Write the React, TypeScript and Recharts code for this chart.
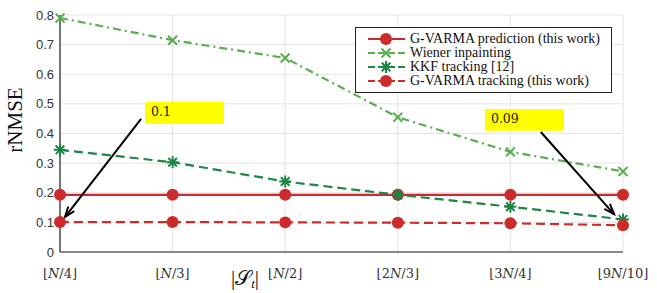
import React from "react";
import {
  LineChart,
  Line,
  XAxis,
  YAxis,
  CartesianGrid,
  Legend,
  ReferenceArea,
  ReferenceLine,
} from "recharts";

const categories = ["N/4", "N/3", "N/2", "2N/3", "3N/4", "9N/10"];
const predictionRnmse = [0.193, 0.193, 0.193, 0.193, 0.193, 0.193];
const wienerRnmse = [0.79, 0.715, 0.655, 0.455, 0.338, 0.272];
const kkfRnmse = [0.345, 0.303, 0.238, 0.193, 0.153, 0.11];
const trackingRnmse = [0.101, 0.101, 0.1, 0.099, 0.097, 0.09];
const yTicks = [0, 0.1, 0.2, 0.3, 0.4, 0.5, 0.6, 0.7, 0.8];

const data = categories.map((c, i) => ({
  idx: i,
  cat: c,
  prediction: predictionRnmse[i],
  wiener: wienerRnmse[i],
  kkf: kkfRnmse[i],
  tracking: trackingRnmse[i],
}));

const RED = "#cc2b2b";
const LIGHT_GREEN = "#5aae50";
const DARK_GREEN = "#1d8545";
const SERIF = "Liberation Serif, serif";
const SANS = "Liberation Sans, Arial, sans-serif";

const Circle = ({ cx, cy, color }: any) => <circle cx={cx} cy={cy} r={6} fill={color} />;

const Cross = ({ cx, cy, color }: any) => (
  <g stroke={color} strokeWidth={2}>
    <line x1={cx - 4.5} y1={cy - 4.5} x2={cx + 4.5} y2={cy + 4.5} />
    <line x1={cx - 4.5} y1={cy + 4.5} x2={cx + 4.5} y2={cy - 4.5} />
  </g>
);

const Star = ({ cx, cy, color }: any) => (
  <g stroke={color} strokeWidth={2}>
    <line x1={cx} y1={cy - 6} x2={cx} y2={cy + 6} />
    <line x1={cx - 6} y1={cy} x2={cx + 6} y2={cy} />
    <line x1={cx - 4.3} y1={cy - 4.3} x2={cx + 4.3} y2={cy + 4.3} />
    <line x1={cx - 4.3} y1={cy + 4.3} x2={cx + 4.3} y2={cy - 4.3} />
  </g>
);

const series = [
  { key: "prediction", name: "G-VARMA prediction (this work)", color: RED, dash: undefined, Marker: Circle },
  { key: "wiener", name: "Wiener inpainting", color: LIGHT_GREEN, dash: "8 4 2 4", Marker: Cross },
  { key: "kkf", name: "KKF tracking [12]", color: DARK_GREEN, dash: "9 5", Marker: Star },
  { key: "tracking", name: "G-VARMA tracking (this work)", color: RED, dash: "9 5", Marker: Circle },
];

function XTick({ x, y, payload }: any) {
  const label = categories[payload.value] ?? "";
  const [pre, post] = label.split("N");
  return (
    <text x={x} y={y + 18} textAnchor="middle" fontFamily="DejaVu Serif, serif" fontSize={13} fill="#333">
      <tspan>{"⌊" + pre}</tspan>
      <tspan fontStyle="italic">N</tspan>
      <tspan>{"/" + post.slice(1) + "⌋"}</tspan>
    </text>
  );
}

function Arrow({ x1, y1, x2, y2 }: any) {
  const ang = Math.atan2(y2 - y1, x2 - x1);
  const len = 11;
  const spread = 0.35;
  const p1x = x2 - len * Math.cos(ang - spread);
  const p1y = y2 - len * Math.sin(ang - spread);
  const p2x = x2 - len * Math.cos(ang + spread);
  const p2y = y2 - len * Math.sin(ang + spread);
  return (
    <g stroke="#000" strokeWidth={2} fill="none">
      <line x1={x1} y1={y1} x2={x2} y2={y2} />
      <polyline points={`${p1x},${p1y} ${x2},${y2} ${p2x},${p2y}`} />
    </g>
  );
}

function BoxLabel({ viewBox, value }: any) {
  return (
    <text
      x={viewBox.x + 6}
      y={viewBox.y + 14}
      fontFamily="DejaVu Serif, serif"
      fontSize={12.5}
      fill="#222"
    >
      {value}
    </text>
  );
}

function LegendBox() {
  return (
    <div
      style={{
        border: "1px solid #222",
        background: "#fff",
        padding: "4px 0 4px 4px",
        fontFamily: SERIF,
        fontSize: 14,
        color: "#111",
        width: 257,
        boxSizing: "border-box",
      }}
    >
      {series.map((s) => (
        <div key={s.key} style={{ display: "flex", alignItems: "center", height: 14 }}>
          <svg width={50} height={14}>
            <line x1={8} y1={7} x2={45} y2={7} stroke={s.color} strokeWidth={2.2} strokeDasharray={s.dash ? "7 3" : undefined} />
            <s.Marker cx={26} cy={7} color={s.color} />
          </svg>
          <span style={{ whiteSpace: "nowrap", lineHeight: "14px", fontFamily: SERIF }}>{s.name}</span>
        </div>
      ))}
    </div>
  );
}

export default function App() {
  return (
    <div style={{ position: "absolute", left: 0, top: 0, background: "#fff" }}>
      <LineChart width={657} height={293} data={data} margin={{ top: 15, right: 34, bottom: 0, left: 0 }}>
        <CartesianGrid stroke="#e3e3e3" strokeWidth={1} />
        <XAxis
          dataKey="idx"
          type="number"
          domain={[0, 5]}
          ticks={[0, 1, 2, 3, 4, 5]}
          height={41}
          tick={<XTick />}
          tickLine={false}
          axisLine={{ stroke: "#222", strokeWidth: 1.2 }}
          label={{
            content: ({ viewBox }: any) => (
              <text x={viewBox.x + 185} y={viewBox.y + 33} textAnchor="middle" fontFamily={SERIF} fontSize={21} fill="#111">
                <tspan>|</tspan>
                <tspan>𝒮</tspan>
                <tspan fontStyle="italic" fontSize={13} dy={3}>t</tspan>
                <tspan dy={-3}>|</tspan>
              </text>
            ),
          }}
        />
        <YAxis
          domain={[0, 0.8]}
          ticks={yTicks}
          width={60}
          tickLine={false}
          tick={{ fontFamily: SANS, fontSize: 13, fill: "#333", dx: 2 }}
          axisLine={{ stroke: "#222", strokeWidth: 1.2 }}
          label={{
            content: () => (
              <text
                x={22}
                y={120}
                transform="rotate(-90 22 120)"
                textAnchor="middle"
                fontFamily={SERIF}
                fontSize={21}
                fill="#111"
              >
                rNMSE
              </text>
            ),
          }}
        />
        <Legend
          layout="vertical"
          align="center"
          verticalAlign="middle"
          content={<LegendBox />}
          wrapperStyle={{ position: "absolute", left: 355, top: 27, width: 258 }}
        />
        <ReferenceArea
          x1={0.755}
          x2={1.456}
          y1={0.432}
          y2={0.507}
          fill="#ffff00"
          fillOpacity={1}
          stroke="none"
          label={<BoxLabel value="0.1" />}
        />
        <ReferenceArea
          x1={3.774}
          x2={4.476}
          y1={0.409}
          y2={0.483}
          fill="#ffff00"
          fillOpacity={1}
          stroke="none"
          label={<BoxLabel value="0.09" />}
        />
        {series.map((s) => (
          <Line
            key={s.key}
            dataKey={s.key}
            name={s.name}
            stroke={s.color}
            strokeWidth={2.2}
            strokeDasharray={s.dash}
            dot={(p: any) => <s.Marker key={`${s.key}-${p.index}`} cx={p.cx} cy={p.cy} color={s.color} />}
            isAnimationActive={false}
          />
        ))}
        <ReferenceLine
          segment={[{ x: 0.72, y: 0.449 }, { x: 0.044, y: 0.118 }]}
          shape={<Arrow />}
        />
        <ReferenceLine
          segment={[{ x: 4.27, y: 0.405 }, { x: 4.92, y: 0.128 }]}
          shape={<Arrow />}
        />
      </LineChart>
    </div>
  );
}
